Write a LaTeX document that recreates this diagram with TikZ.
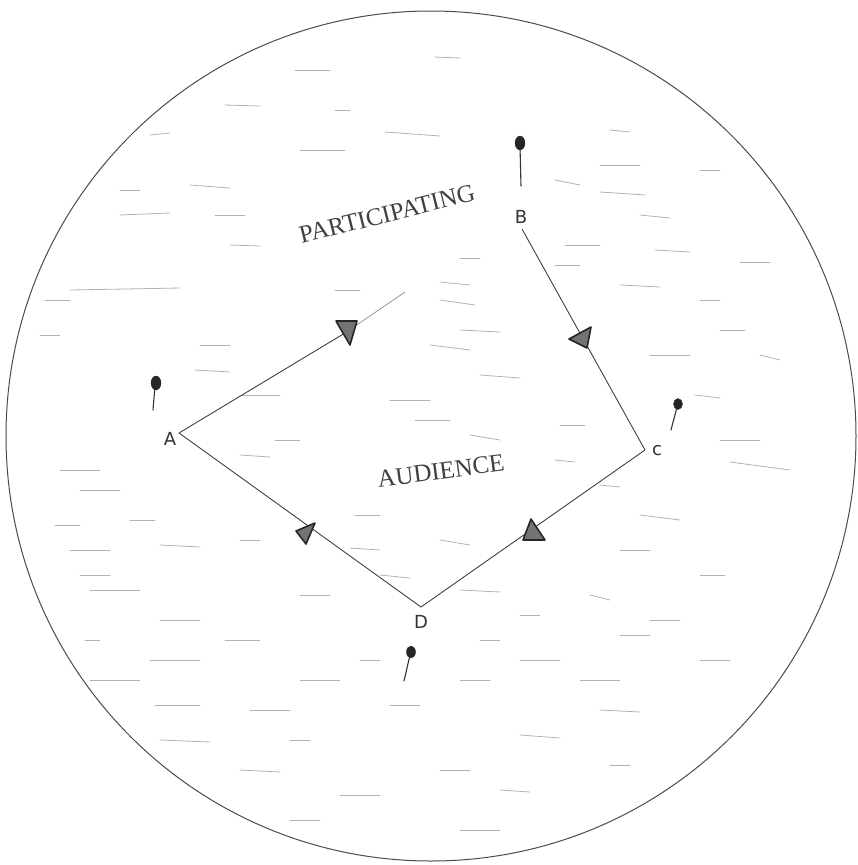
\documentclass[tikz,border=0pt]{standalone}
\usepackage{fontspec}
\setmainfont{Liberation Serif}
\newfontfamily\handfont{DejaVu Sans}
\begin{document}
\begin{tikzpicture}[x=1pt,y=-1pt,
  edge/.style={draw=black!75,line width=0.9pt},
  faint/.style={draw=black!45,line width=0.7pt},
  tri/.style={fill=black!55,draw=black!85,line width=1.6pt,line join=round},
  hatch/.style={draw=black!30,line width=0.8pt,line cap=round},
  lbl/.style={font=\handfont\fontsize{18}{18}\selectfont,text=black!80,inner sep=0pt},
  big/.style={font=\fontsize{25}{25}\selectfont,text=black!75,inner sep=0pt},
  pinhead/.style={fill=black!85,draw=black!85},
  pinstalk/.style={draw=black!80,line width=1.1pt,line cap=round}]
\useasboundingbox (0,0) rectangle (857,865);
\fill[white] (0,0) rectangle (857,865);
% background strokes
\foreach \a/\b/\c/\d in {
295/70/330/70, 435/57/460/58, 225/105/260/106, 335/110/350/110,
385/132/440/136, 610/130/630/132, 150/135/170/133, 300/150/345/150,
555/180/580/185, 600/165/640/165, 700/170/720/170, 190/185/230/188,
120/190/140/190, 600/192/645/195, 120/215/170/213, 215/215/245/215,
640/215/670/218, 565/245/600/245, 655/250/690/252, 230/245/260/246,
460/258/480/258, 555/265/580/265, 740/262/770/262, 70/290/180/288,
335/290/360/290, 440/282/470/285, 620/285/660/287, 45/300/70/300,
440/300/475/305, 700/300/720/300, 40/335/60/335, 460/330/500/332,
720/330/745/330, 200/345/230/345, 430/345/470/350, 650/355/690/355,
760/355/780/360, 480/375/520/378, 195/370/230/372, 240/395/280/395,
390/400/430/400, 695/395/720/398, 415/420/450/420, 560/425/585/425,
275/440/300/440, 470/435/500/440, 720/440/760/440, 60/470/100/470,
240/455/270/457, 555/460/575/462, 730/462/790/470, 80/490/120/490,
600/485/620/487, 55/525/80/525, 130/520/155/520, 355/515/380/515,
640/515/680/520, 70/550/110/550, 160/545/200/547, 240/540/260/540,
350/548/380/550, 440/540/470/545, 620/550/650/550, 80/575/110/575,
380/575/410/578, 700/575/725/575, 90/590/140/590, 300/595/330/595,
460/590/500/592, 590/595/610/600, 160/620/200/620, 520/615/540/615,
650/620/680/620, 85/640/100/640, 225/640/260/640, 480/640/500/640,
620/635/650/635, 150/660/200/660, 360/660/380/660, 520/660/560/660,
700/660/730/660, 90/680/140/680, 300/680/340/680, 460/680/490/680,
580/680/620/680, 155/705/200/705, 250/710/290/710, 390/705/420/705,
600/710/640/712, 160/740/210/742, 290/740/310/740, 520/735/560/738,
240/770/280/772, 440/770/470/770, 610/765/630/765, 340/795/380/795,
500/790/530/792, 290/820/320/820, 460/830/500/830}
  \draw[hatch] (\a,\b) -- (\c,\d);
% big circle
\draw[draw=black!70,line width=1pt] (431,436) circle[radius=425];
% vertices
\coordinate (vA) at (179,433);
\coordinate (vB) at (522,229);
\coordinate (vC) at (645,450);
\coordinate (vD) at (421,607);
\coordinate (abEnd) at (405,292);
% edges
\draw[edge] (vB) -- (vC);
\draw[edge] (vC) -- (vD);
\draw[edge] (vD) -- (vA);
\draw[edge] (vA) -- (345,333);
\draw[faint] (345,333) -- (abEnd);
% triangles
\filldraw[tri] (336,321) -- (357,321) -- (350,345) -- cycle;
\filldraw[tri] (569,339) -- (591,327) -- (587,348) -- cycle;
\filldraw[tri] (296,531) -- (315,523) -- (306,544) -- cycle;
\filldraw[tri] (531,519) -- (523,540) -- (545,540) -- cycle;
% labels
\node[lbl] (A) at (170,439) {A};
\node[lbl] (B) at (521,217) {B};
\node[lbl] (C) at (657,451) {c};
\node[lbl] (D) at (421,622) {D};
% pins
\draw[pinstalk] (155,386) -- (153,410);
\fill[pinhead] (156,383) ellipse[x radius=5,y radius=7];
\draw[pinstalk] (520,146) -- (521,186);
\fill[pinhead] (520,143) ellipse[x radius=5,y radius=7];
\draw[pinstalk] (677,407) -- (671,430);
\fill[pinhead] (678,404) ellipse[x radius=4.5,y radius=5.5];
\draw[pinstalk] (410,655) -- (404,681);
\fill[pinhead] (411,652) ellipse[x radius=4.5,y radius=6];
% texts
\node[big,rotate=14] (part) at (387,214) {PARTICIPATING};
\node[big,rotate=7.5] (aud) at (441,471) {AUDIENCE};
\end{tikzpicture}
\end{document}
